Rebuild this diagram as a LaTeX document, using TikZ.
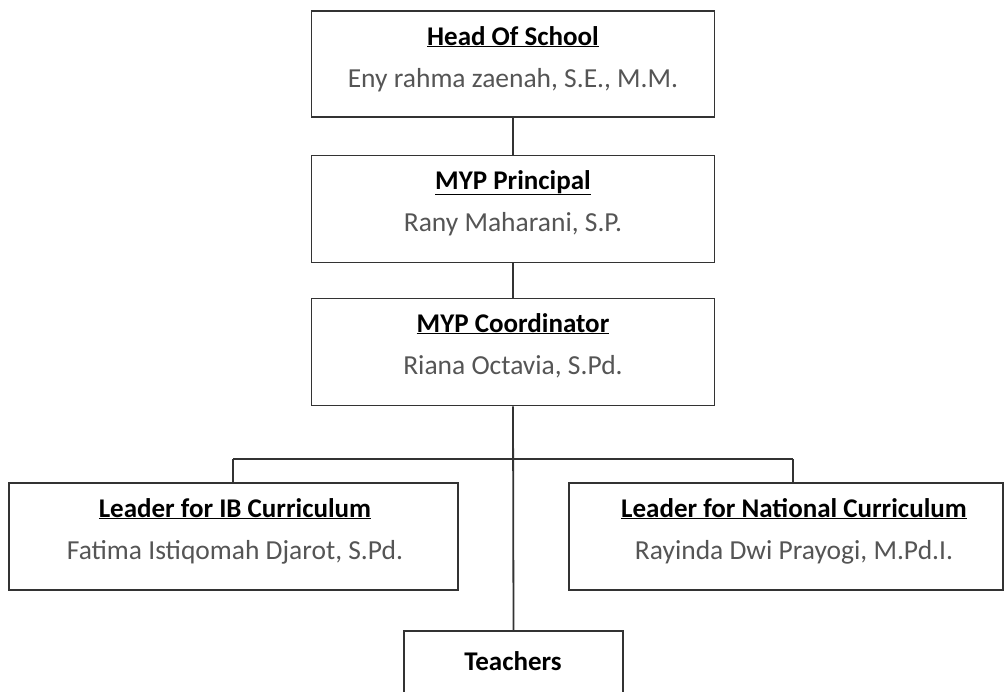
\documentclass[tikz,border=0pt]{standalone}
\usepackage{fontspec}
\setmainfont{Carlito}
\definecolor{namegray}{HTML}{555555}
\definecolor{linegray}{HTML}{333333}
\begin{document}
\begin{tikzpicture}[x=1pt,y=-1pt,
  orgbox/.style={draw=linegray,line width=1.8pt,fill=white},
  conn/.style={draw=linegray,line width=1.8pt},
  ttl/.style={anchor=base,inner sep=0pt,font=\fontsize{27}{32}\selectfont\bfseries},
  nm/.style={anchor=base,inner sep=0pt,text=namegray,font=\fontsize{27.5}{32}\selectfont}]
\useasboundingbox (0,0) rectangle (1004,691);
\clip (0,0) rectangle (1004,691);
% boxes
\node[orgbox,minimum width=403pt,minimum height=106pt,inner sep=0pt] (head) at (513,64) {};
\node[orgbox,minimum width=403pt,minimum height=107pt,inner sep=0pt] (prin) at (513,209) {};
\node[orgbox,minimum width=403pt,minimum height=107pt,inner sep=0pt] (coord) at (513,352) {};
\node[orgbox,minimum width=449pt,minimum height=107pt,inner sep=0pt] (ib) at (233.5,536.5) {};
\node[orgbox,minimum width=434pt,minimum height=107pt,inner sep=0pt] (nat) at (786,536.5) {};
\node[orgbox,minimum width=219pt,minimum height=120pt,inner sep=0pt] (teach) at (513.5,691) {};
% texts
\node[ttl] (t1) at (513,45) {\underline{Head Of School}};
\node[nm] (n1) at (513,87) {Eny rahma zaenah, S.E., M.M.};
\node[ttl] (t2) at (513,189) {\underline{MYP Principal}};
\node[nm] (n2) at (513,231) {Rany Maharani, S.P.};
\node[ttl] (t3) at (513,332) {\underline{MYP Coordinator}};
\node[nm] (n3) at (513,374) {Riana Octavia, S.Pd.};
\node[ttl] (t4) at (235,517) {\underline{Leader for IB Curriculum}};
\node[nm] (n4) at (235,559) {Fatima Istiqomah Djarot, S.Pd.};
\node[ttl] (t5) at (794,517) {\underline{Leader for National Curriculum}};
\node[nm] (n5) at (794,559) {Rayinda Dwi Prayogi, M.Pd.I.};
\node[ttl] (t6) at (513,670) {Teachers};
% connectors
\coordinate (bl) at (233,459);
\coordinate (br) at (793,459);
\coordinate (bm) at (514,459);
\draw[conn] (head.south) -- (prin.north);
\draw[conn] (prin.south) -- (coord.north);
\draw[conn] (coord.south) -- (teach.north);
\draw[conn] (bl) -- (br);
\draw[conn] (bl) -- (bl |- ib.north);
\draw[conn] (br) -- (br |- nat.north);
\end{tikzpicture}
\end{document}
